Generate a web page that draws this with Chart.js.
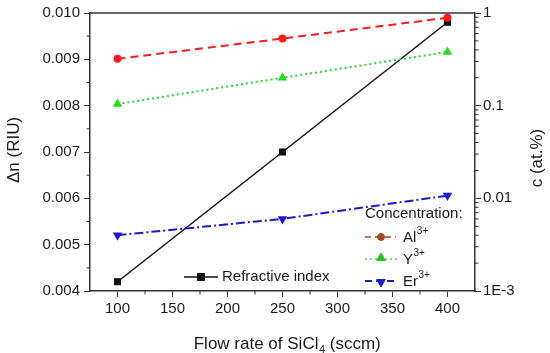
<!DOCTYPE html>
<html>
<head>
<meta charset="utf-8">
<script src="https://cdn.jsdelivr.net/npm/chart.js@4.4.1/dist/chart.umd.min.js"></script>
<style>
  html, body { margin: 0; padding: 0; background: #fff; }
  #wrap { width: 550px; height: 353px; position: relative; }
</style>
</head>
<body>
<div id="wrap"><canvas id="c"></canvas></div>
<script>
const flowRate = [100, 250, 400];
const refractiveIndex = [0.0042, 0.0070, 0.0098];
const alConc = [0.32, 0.53, 0.89];
const yConc = [0.104, 0.20, 0.38];
const erConc = [0.0040, 0.0060, 0.0107];

const xTicks = [100, 150, 200, 250, 300, 350, 400];
const leftTicks = [0.004, 0.005, 0.006, 0.007, 0.008, 0.009, 0.010];
const rightTicks = [0.001, 0.01, 0.1, 1];
const rightTickLabels = ['1E-3', '0.01', '0.1', '1'];

const FONT = '"Liberation Sans", Arial, sans-serif';
const AXIS = '#333';
const TEXT = '#1a1a1a';

function pts(ys) {
    return flowRate.map((x, i) => ({ x: x, y: ys[i] }));
}

// legend, frame, minor ticks and titles drawn by hand
const overlay = {
    id: 'overlay',
    afterDraw(chart) {
        const ctx = chart.ctx;
        const a = chart.chartArea;
        const sx = chart.scales.x, sl = chart.scales.yL, sr = chart.scales.yR;
        ctx.save();

        ctx.strokeStyle = AXIS;
        ctx.lineWidth = 1.5;
        ctx.beginPath();
        ctx.moveTo(a.left, a.top);
        ctx.lineTo(a.right, a.top);
        ctx.stroke();

        // minor ticks
        ctx.lineWidth = 1;
        ctx.beginPath();
        for (let v = 125; v <= 400; v += 50) {
            const p = sx.getPixelForValue(v);
            ctx.moveTo(p, a.bottom);
            ctx.lineTo(p, a.bottom + 3.5);
        }
        for (let i = 0; i < leftTicks.length - 1; i++) {
            const p = sl.getPixelForValue((leftTicks[i] + leftTicks[i + 1]) / 2);
            ctx.moveTo(a.left, p);
            ctx.lineTo(a.left - 3.5, p);
        }
        for (let d = 0; d < rightTicks.length - 1; d++) {
            for (let k = 2; k <= 9; k++) {
                const p = sr.getPixelForValue(rightTicks[d] * k);
                ctx.moveTo(a.right, p);
                ctx.lineTo(a.right + 3.5, p);
            }
        }
        ctx.stroke();

        // axis titles
        ctx.fillStyle = TEXT;
        ctx.font = '17px ' + FONT;
        ctx.textAlign = 'center';
        ctx.textBaseline = 'middle';

        ctx.save();
        ctx.translate(14, 150);
        ctx.rotate(-Math.PI / 2);
        ctx.fillText('\u0394n (RIU)', 0, 0);
        ctx.restore();

        ctx.save();
        ctx.translate(537, 158);
        ctx.rotate(-Math.PI / 2);
        ctx.fillText('c (at.%)', 0, 0);
        ctx.restore();

        // x title with subscript
        const t1 = 'Flow rate of SiCl', t2 = '4', t3 = ' (sccm)';
        ctx.font = '17px ' + FONT;
        const w1 = ctx.measureText(t1).width, w3 = ctx.measureText(t3).width;
        ctx.font = '11px ' + FONT;
        const w2 = ctx.measureText(t2).width;
        let x0 = 287 - (w1 + w2 + w3) / 2;
        const yb = 349;
        ctx.textAlign = 'left';
        ctx.textBaseline = 'alphabetic';
        ctx.font = '17px ' + FONT;
        ctx.fillText(t1, x0, yb);
        ctx.font = '11px ' + FONT;
        ctx.fillText(t2, x0 + w1 + 0.5, yb + 4);
        ctx.font = '17px ' + FONT;
        ctx.fillText(t3, x0 + w1 + w2 + 0.5, yb);

        // legend
        function marker(style, rot, r, color, x, y) {
            ctx.fillStyle = color;
            ctx.strokeStyle = color;
            Chart.helpers.drawPoint(ctx, { pointStyle: style, rotation: rot, radius: r, borderWidth: 1 }, x, y);
        }
        function sample(x1, x2, y, dash, color, lw) {
            ctx.save();
            ctx.strokeStyle = color;
            ctx.lineWidth = lw;
            ctx.setLineDash(dash);
            ctx.beginPath();
            ctx.moveTo(x1, y);
            ctx.lineTo(x2, y);
            ctx.stroke();
            ctx.restore();
        }
        function supLabel(base, sup, x, y) {
            ctx.fillStyle = TEXT;
            ctx.textAlign = 'left';
            ctx.textBaseline = 'middle';
            ctx.font = '15px ' + FONT;
            ctx.fillText(base, x, y);
            const w = ctx.measureText(base).width;
            ctx.font = '10px ' + FONT;
            ctx.fillText(sup, x + w + 0.5, y - 7);
        }

        ctx.fillStyle = TEXT;
        ctx.font = '15px ' + FONT;
        ctx.textAlign = 'left';
        ctx.textBaseline = 'middle';
        ctx.fillText('Concentration:', 365, 214);

        sample(365, 396, 237, [6, 4], '#c0392b', 1.5);
        marker('circle', 0, 3.5, '#a5482a', 381, 237);
        supLabel('Al', '3+', 403, 238);

        sample(365, 398, 259, [2, 3], '#55d655', 1.5);
        marker('triangle', 0, 5, '#22c022', 381, 258);
        supLabel('Y', '3+', 403, 260);

        sample(365, 396, 281, [7, 4], '#1a1acc', 2);
        marker('triangle', 180, 5, '#1a1adc', 381, 282);
        supLabel('Er', '3+', 403, 282);

        sample(184, 218, 277, [], '#111', 1.5);
        marker('rect', 0, 5, '#111', 201, 277);
        ctx.fillStyle = TEXT;
        ctx.font = '15px ' + FONT;
        ctx.textAlign = 'left';
        ctx.textBaseline = 'middle';
        ctx.fillText('Refractive index', 222, 277);

        ctx.restore();
    }
};

const tickFont = { family: FONT, size: 15 };

new Chart(document.getElementById('c'), {
    type: 'line',
    data: {
        datasets: [{
            label: 'Al3+',
            data: pts(alConc),
            yAxisID: 'yR',
            borderColor: '#ff1a1a',
            backgroundColor: '#ff1a1a',
            borderDash: [8, 5],
            borderWidth: 2,
            pointStyle: 'circle',
            pointRadius: 4,
            pointBorderWidth: 0
        }, {
            label: 'Y3+',
            data: pts(yConc),
            yAxisID: 'yR',
            borderColor: '#22dd22',
            backgroundColor: '#22dd22',
            borderDash: [2, 3],
            borderWidth: 2,
            pointStyle: 'triangle',
            pointRadius: 5.5,
            pointBorderWidth: 0
        }, {
            label: 'Er3+',
            data: pts(erConc),
            yAxisID: 'yR',
            borderColor: '#1a1ad6',
            backgroundColor: '#1a1ad6',
            borderDash: [9, 3, 2, 3],
            borderWidth: 2,
            pointStyle: 'triangle',
            pointRotation: 180,
            pointRadius: 5.5,
            pointBorderWidth: 0
        }, {
            label: 'Refractive index',
            data: pts(refractiveIndex),
            yAxisID: 'yL',
            borderColor: '#111',
            backgroundColor: '#111',
            borderWidth: 1.5,
            pointStyle: 'rect',
            pointRadius: 5,
            pointBorderWidth: 0
        }]
    },
    options: {
        responsive: true,
        maintainAspectRatio: false,
        animation: false,
        events: [],
        layout: { padding: { top: 10, left: 0, right: 0, bottom: 0 } },
        plugins: { legend: { display: false }, tooltip: { enabled: false } },
        elements: { line: { tension: 0, fill: false } },
        scales: {
            x: {
                type: 'linear',
                min: 75,
                max: 425,
                afterBuildTicks: s => { s.ticks = xTicks.map(v => ({ value: v })); },
                afterFit: s => { s.height = 62; },
                border: { color: AXIS, width: 1.5 },
                grid: { drawOnChartArea: false, drawTicks: true, tickLength: 6, color: AXIS },
                ticks: { color: TEXT, font: tickFont, padding: 3, maxRotation: 0 }
            },
            yL: {
                type: 'linear',
                position: 'left',
                min: 0.004,
                max: 0.010,
                afterBuildTicks: s => { s.ticks = leftTicks.map(v => ({ value: v })); },
                afterFit: s => { s.width = 90; },
                border: { color: AXIS, width: 1.5 },
                grid: { drawOnChartArea: false, drawTicks: true, tickLength: 6, color: AXIS },
                ticks: { color: TEXT, font: tickFont, padding: 4, callback: v => v.toFixed(3) }
            },
            yR: {
                type: 'logarithmic',
                position: 'right',
                min: 0.001,
                max: 1,
                afterBuildTicks: s => { s.ticks = rightTicks.map(v => ({ value: v })); },
                afterFit: s => { s.width = 75; },
                border: { color: AXIS, width: 1.5 },
                grid: { drawOnChartArea: false, drawTicks: true, tickLength: 6, color: AXIS },
                ticks: {
                    color: TEXT, font: tickFont, padding: 2,
                    callback: v => rightTickLabels[rightTicks.indexOf(v)]
                }
            }
        }
    },
    plugins: [overlay]
});
</script>
</body>
</html>
